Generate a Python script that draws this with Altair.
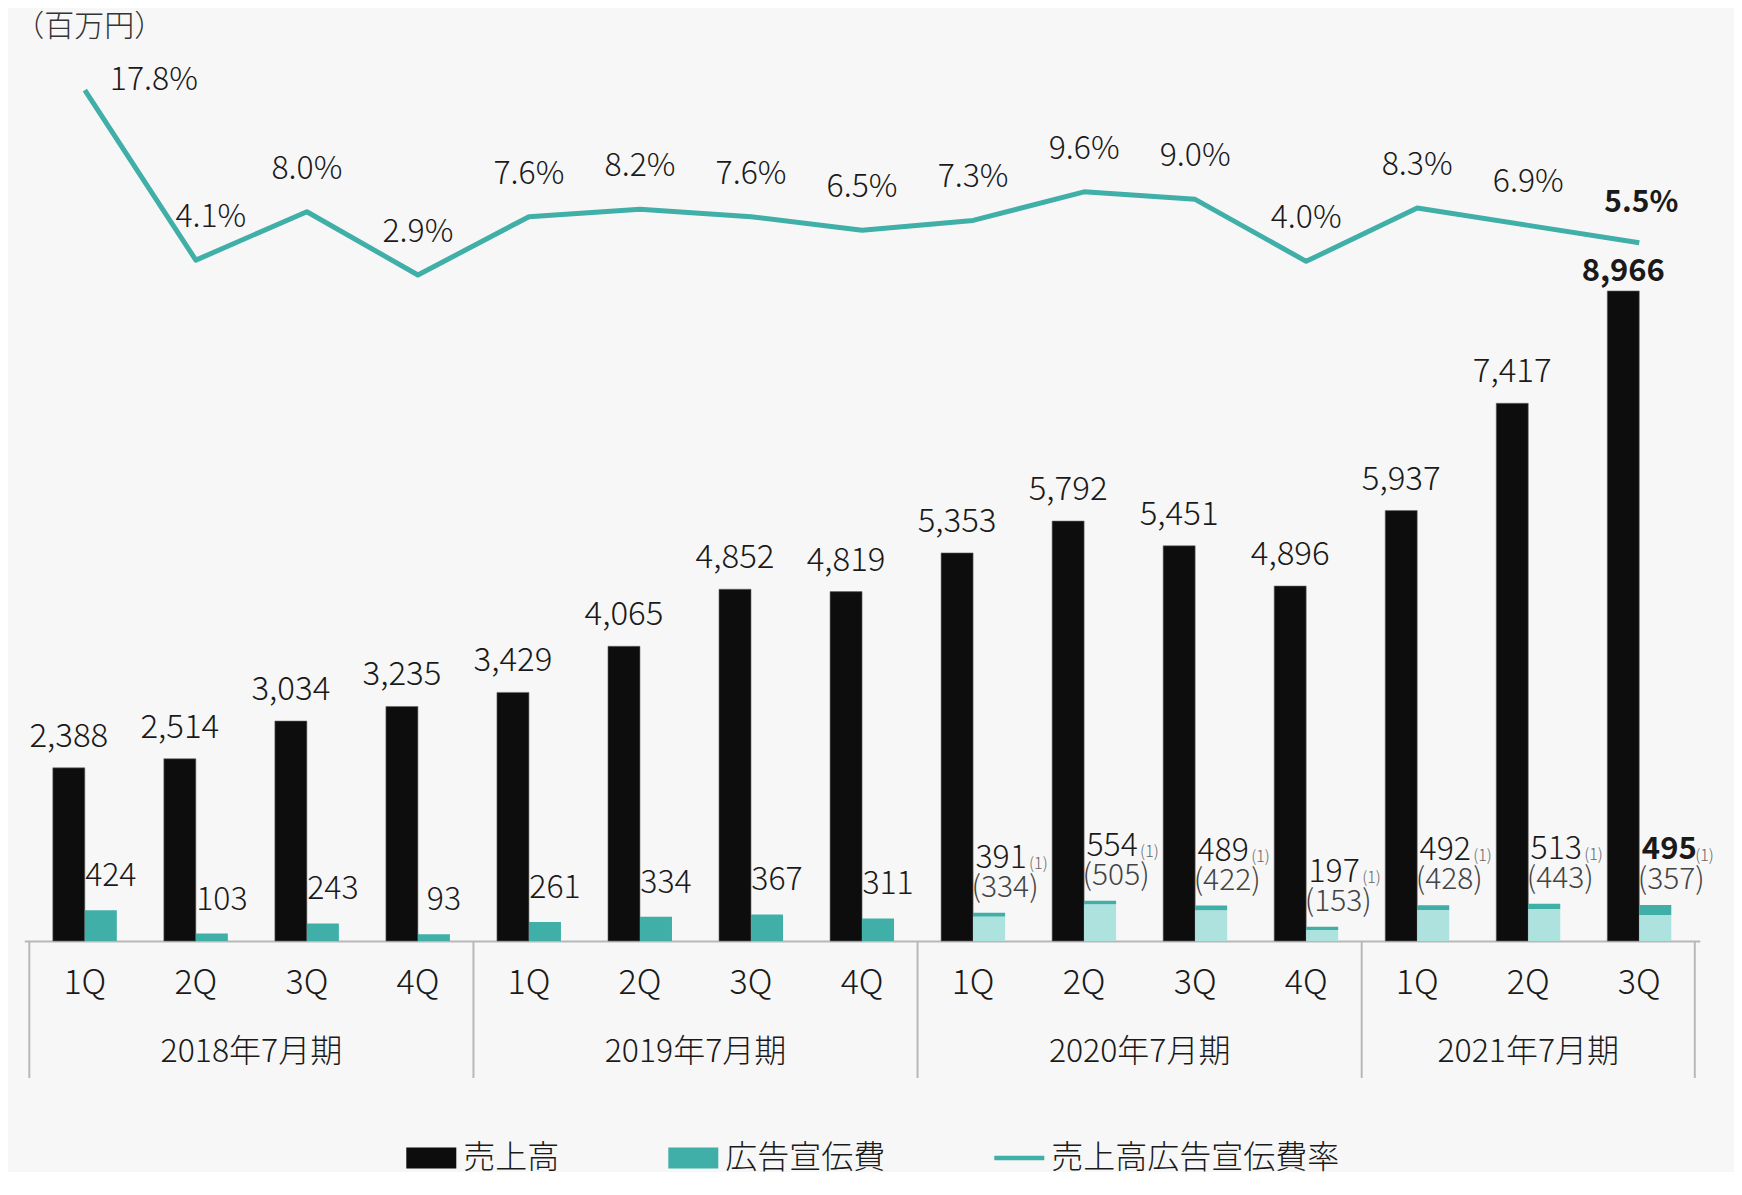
import altair as alt
import pandas as pd

# ---------------- data ----------------
years = ["2018年7月期"] * 4 + ["2019年7月期"] * 4 + ["2020年7月期"] * 4 + ["2021年7月期"] * 3
quarters = ["1Q", "2Q", "3Q", "4Q"] * 3 + ["1Q", "2Q", "3Q"]
sales = [2388, 2514, 3034, 3235, 3429, 4065, 4852, 4819, 5353, 5792, 5451, 4896, 5937, 7417, 8966]
ad_cost = [424, 103, 243, 93, 261, 334, 367, 311, 391, 554, 489, 197, 492, 513, 495]
ad_paren = [None] * 8 + [334, 505, 422, 153, 428, 443, 357]
ad_ratio = [17.8, 4.1, 8.0, 2.9, 7.6, 8.2, 7.6, 6.5, 7.3, 9.6, 9.0, 4.0, 8.3, 6.9, 5.5]
series_names = ["売上高", "広告宣伝費", "売上高広告宣伝費率"]
unit_label = "（百万円）"

# ---------------- styles ----------------
FONT = "Noto Sans CJK JP"
BLACK = "#0D0D0D"
TEAL = "#40AFA7"
LIGHT_TEAL = "#AEE2DE"
TXT = "#1A1A1A"
W, H = 1675.5, 870
LAST = len(sales) - 1

rows = []
for i in range(len(sales)):
    p = ad_paren[i]
    rows.append({
        "idx": i,
        "year": years[i],
        "quarter": quarters[i],
        "sales": sales[i],
        "ad": ad_cost[i],
        "paren": p,
        "base": p if p is not None else 0,
        "has_paren": p is not None,
        "sales_lbl": f"{sales[i]:,}",
        "ad_lbl": f"{ad_cost[i]}",
        "paren_lbl": f"({p})" if p is not None else "",
        "rate": ad_ratio[i],
        "rate_lbl": f"{ad_ratio[i]:.1f}%",
    })
df = pd.DataFrame(rows)

# group boundaries for the category axis
bounds = []
for y in dict.fromkeys(years):
    ids = [i for i, yy in enumerate(years) if yy == y]
    bounds.append(min(ids) - 0.5)
bounds.append(LAST + 0.5)
bounds_df = pd.DataFrame({"b": bounds})

xscale = alt.Scale(domain=[-0.5, LAST + 0.5], nice=False, zero=False)
xaxis = alt.Axis(domain=True, domainColor="#B8B8B8", domainWidth=2, ticks=False,
                 labels=False, grid=False, title=None)
X = alt.X("idx:Q", scale=xscale, axis=xaxis, title=None)

ys = alt.Scale(domain=[0, 12000], nice=False, zero=True)
rs = alt.Scale(domain=[-50.77, 19.34], nice=False, zero=False)
Ysales = alt.Y("sales:Q", scale=ys, axis=None)
Yad = alt.Y("ad:Q", scale=ys, axis=None)
Yrate = alt.Y("rate:Q", scale=rs, axis=None)

base = alt.Chart(df)

sales_bar = base.mark_bar(color=BLACK, size=32, xOffset=-16, stroke="#6a6a6a", strokeWidth=0.6).encode(
    x=X, y=Ysales)
ad_bar = base.mark_bar(color=TEAL, size=32, xOffset=16).encode(
    x=X, y=alt.Y("base:Q", scale=ys, axis=None), y2="ad:Q")
ad_light = base.transform_filter("datum.has_paren").mark_bar(color=LIGHT_TEAL, size=32, xOffset=16).encode(
    x=X, y=alt.Y("paren:Q", scale=ys, axis=None))

sales_txt = base.transform_filter(f"datum.idx != {LAST}").mark_text(
    dx=-16, dy=-31, fontSize=33, fontWeight=300, color=TXT, baseline="middle").encode(
    x=X, y=Ysales, text="sales_lbl:N")
sales_txt_b = base.transform_filter(f"datum.idx == {LAST}").mark_text(
    dx=-16, dy=-19, fontSize=31, fontWeight="bold", color=TXT, baseline="middle").encode(
    x=X, y=Ysales, text="sales_lbl:N")

ad_txt = base.transform_filter("!datum.has_paren").mark_text(
    dx=26, dy=-34, fontSize=32, fontWeight=300, color=TXT, baseline="middle").encode(
    x=X, y=Yad, text="ad_lbl:N")
ad_txt2 = base.transform_filter(f"datum.has_paren && datum.idx != {LAST}").mark_text(
    dx=28, dy=-55, fontSize=32, fontWeight=300, color=TXT, baseline="middle").encode(
    x=X, y=Yad, text="ad_lbl:N")
ad_txt2_b = base.transform_filter(f"datum.idx == {LAST}").mark_text(
    dx=30, dy=-55, fontSize=31, fontWeight="bold", color=TXT, baseline="middle").encode(
    x=X, y=Yad, text="ad_lbl:N")
paren_txt = base.transform_filter("datum.has_paren").mark_text(
    dx=32, dy=-25, fontSize=30, fontWeight=300, color="#444444", baseline="middle").encode(
    x=X, y=Yad, text="paren_lbl:N")
note_txt = base.transform_filter("datum.has_paren").mark_text(
    dx=56, dy=-49, fontSize=16, fontWeight=300, color="#666666", baseline="middle", align="left").encode(
    x=X, y=Yad, text=alt.value("(1)"))

rate_line = base.mark_line(color=TEAL, strokeWidth=5, strokeJoin="round").encode(x=X, y=Yrate)
rate_txt = base.transform_filter(f"datum.idx > 1 && datum.idx != {LAST}").mark_text(
    dy=-43, fontSize=32, fontWeight=300, color=TXT, baseline="middle").encode(
    x=X, y=Yrate, text="rate_lbl:N")
rate_txt0 = base.transform_filter("datum.idx == 0").mark_text(
    dx=69, dy=-10, fontSize=32, fontWeight=300, color=TXT, baseline="middle").encode(
    x=X, y=Yrate, text="rate_lbl:N")
rate_txt1 = base.transform_filter("datum.idx == 1").mark_text(
    dx=15, dy=-43, fontSize=32, fontWeight=300, color=TXT, baseline="middle").encode(
    x=X, y=Yrate, text="rate_lbl:N")
rate_txt_b = base.transform_filter(f"datum.idx == {LAST}").mark_text(
    dx=2, dy=-40, fontSize=30, fontWeight="bold", color=TXT, baseline="middle").encode(
    x=X, y=Yrate, text="rate_lbl:N")

q_txt = base.mark_text(fontSize=34, fontWeight=300, color=TXT, baseline="middle").encode(
    x=X, y=alt.value(H + 43), text="quarter:N")
year_txt = base.transform_aggregate(c="mean(idx)", groupby=["year"]).mark_text(
    fontSize=32, fontWeight=300, color=TXT, baseline="middle").encode(
    x=alt.X("c:Q", scale=xscale, axis=xaxis, title=None), y=alt.value(H + 111), text="year:N")
dividers = alt.Chart(bounds_df).mark_rule(color="#B8B8B8", strokeWidth=2).encode(
    x=alt.X("b:Q", scale=xscale, axis=xaxis, title=None), y=alt.value(H), y2=alt.value(H + 137))

unit_txt = alt.Chart(pd.DataFrame({"t": [unit_label]})).mark_text(
    fontSize=30, fontWeight=300, color="#333333", align="left", baseline="middle").encode(
    x=alt.value(-10), y=alt.value(-44), text="t:N")

rect_path = "M-1,-0.42H1V0.42H-1Z"
line_path = "M-1,-0.09H1V0.09H-1Z"
leg = alt.Legend(title=None, orient="none", direction="horizontal", legendX=382, legendY=1062,
                 symbolSize=2500, labelFont=FONT, labelFontSize=32, labelFontWeight=300,
                 labelColor=TXT, labelOffset=7, labelLimit=0, columnPadding=108,
                 symbolStrokeWidth=0, symbolOpacity=1)
legend_layer = alt.Chart(pd.DataFrame({"series": series_names})).transform_filter("false").mark_point(
    filled=True).encode(
    x=X,
    color=alt.Color("series:N", scale=alt.Scale(domain=series_names, range=[BLACK, TEAL, TEAL]), legend=leg),
    shape=alt.Shape("series:N", scale=alt.Scale(domain=series_names, range=[rect_path, rect_path, line_path]),
                    legend=leg),
)

chart = alt.layer(
    sales_bar, ad_bar, ad_light, rate_line,
    sales_txt, sales_txt_b, ad_txt, ad_txt2, ad_txt2_b, paren_txt, note_txt,
    rate_txt, rate_txt0, rate_txt1, rate_txt_b,
    q_txt, year_txt, dividers, unit_txt, legend_layer,
).resolve_scale(y="independent").properties(
    width=W, height=H,
    autosize=alt.AutoSizeParams(type="none"),
    padding={"left": 16.3, "top": 63, "right": 34, "bottom": 231},
    background="#F7F7F7",
).configure(font=FONT).configure_view(stroke=None)

chart.save("out.html", embed_options={"renderer": "svg", "actions": False})
